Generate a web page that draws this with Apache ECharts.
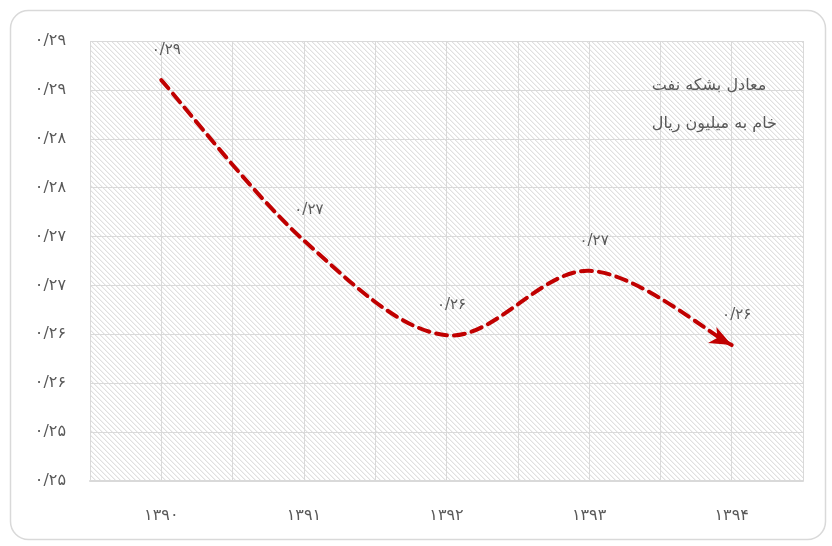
<!DOCTYPE html>
<html lang="fa">
<head>
    <meta charset="UTF-8">
    <title>Document</title>
    <style>
        html, body { margin: 0; padding: 0; background: #fff; }
        #main { width: 832px; height: 546px; }
    </style>
    <script src="https://cdn.jsdelivr.net/npm/echarts@6/dist/echarts.min.js"></script>
</head>
<body>
<div id="main"></div>
<script type="text/javascript">
    // داده‌ها
    var years = ['۱۳۹۰', '۱۳۹۱', '۱۳۹۲', '۱۳۹۳', '۱۳۹۴'];
    var values = [0.291, 0.2746, 0.2649, 0.2715, 0.2639];
    var yLabels = ['۰/۲۵', '۰/۲۵', '۰/۲۶', '۰/۲۶', '۰/۲۷', '۰/۲۷', '۰/۲۸', '۰/۲۸', '۰/۲۹', '۰/۲۹'];
    var seriesName = 'معادل بشکه نفت\nخام به میلیون ریال';

    var faDigits = '۰۱۲۳۴۵۶۷۸۹';
    function toFa(v) {
        return v.toFixed(2).replace(/\d/g, function (d) { return faDigits[+d]; }).replace('.', '/');
    }

    // هاشور پس‌زمینه
    var n = 5;
    var pat = document.createElement('canvas');
    pat.width = n;
    pat.height = n;
    var ctx = pat.getContext('2d');
    ctx.fillStyle = '#fff';
    ctx.fillRect(0, 0, n, n);
    for (var i = 0; i < n; i++) {
        ctx.fillStyle = '#e0e0e0';
        ctx.fillRect(i, i, 1, 1);
        ctx.fillStyle = '#f2f2f2';
        ctx.fillRect((i + 1) % n, i, 1, 1);
    }

    var gridColor = '#d9d9d9';
    var textColor = '#595959';
    var lineColor = '#c00000';
    var font = 'DejaVu Sans';

    // منحنی هموار مثل اکسل (کتمول-رام) + سر پیکان
    function renderCurve(params, api) {
        if (params.dataIndex !== 0) return null;
        var p = values.map(function (v, i) { return api.coord([i, v]); });
        var d = 'M' + p[0][0] + ' ' + p[0][1];
        var lastC2 = p[0];
        for (var i = 0; i < p.length - 1; i++) {
            var p0 = p[Math.max(i - 1, 0)], p1 = p[i], p2 = p[i + 1], p3 = p[Math.min(i + 2, p.length - 1)];
            var c1 = [p1[0] + (p2[0] - p0[0]) / 6, p1[1] + (p2[1] - p0[1]) / 6];
            var c2 = [p2[0] - (p3[0] - p1[0]) / 6, p2[1] - (p3[1] - p1[1]) / 6];
            d += ' C' + c1[0] + ' ' + c1[1] + ' ' + c2[0] + ' ' + c2[1] + ' ' + p2[0] + ' ' + p2[1];
            lastC2 = c2;
        }
        var tip = p[p.length - 1];
        var dx = tip[0] - lastC2[0], dy = tip[1] - lastC2[1];
        var len = Math.sqrt(dx * dx + dy * dy);
        var ux = dx / len, uy = dy / len;
        var L = 22, W = 9, notch = 6;
        var base = [tip[0] - ux * L, tip[1] - uy * L];
        var arrow = [
            tip,
            [base[0] - uy * W, base[1] + ux * W],
            [tip[0] - ux * (L - notch), tip[1] - uy * (L - notch)],
            [base[0] + uy * W, base[1] - ux * W]
        ];
        return {
            type: 'group',
            children: [{
                type: 'path',
                shape: { pathData: d },
                style: { fill: null, stroke: lineColor, lineWidth: 4, lineDash: [11, 7], lineCap: 'round' }
            }, {
                type: 'polygon',
                shape: { points: arrow },
                style: { fill: lineColor }
            }]
        };
    }

    var myChart = echarts.init(document.getElementById('main'));
    var option = {
        backgroundColor: '#fff',
        animation: false,
        title: {
            text: seriesName,
            right: 50,
            top: 62,
            textStyle: {
                fontFamily: font,
                fontSize: 16,
                fontWeight: 'normal',
                color: textColor,
                lineHeight: 38,
                align: 'right'
            }
        },
        graphic: [{
            type: 'rect',
            shape: { x: 10.5, y: 10.5, width: 815, height: 529, r: 18 },
            style: { fill: 'none', stroke: gridColor, lineWidth: 1.5 },
            z: -1
        }],
        grid: {
            left: 90,
            right: 29,
            top: 41,
            bottom: 65,
            show: true,
            borderWidth: 0,
            backgroundColor: { image: pat, repeat: 'repeat' }
        },
        xAxis: [{
            type: 'category',
            data: years,
            boundaryGap: true,
            axisLine: { lineStyle: { color: gridColor, width: 2 } },
            axisTick: { show: false },
            splitLine: { show: false },
            axisLabel: { color: textColor, fontFamily: font, fontSize: 16, margin: 27 }
        }, {
            type: 'value',
            min: 0,
            max: 10,
            interval: 1,
            position: 'bottom',
            axisLine: { show: false },
            axisTick: { show: false },
            axisLabel: { show: false },
            splitLine: { show: true, lineStyle: { color: gridColor, width: 1 } }
        }],
        yAxis: {
            type: 'value',
            min: 0.25,
            max: 0.295,
            interval: 0.005,
            axisLine: { show: false },
            axisTick: { show: false },
            splitLine: { lineStyle: { color: gridColor, width: 1 } },
            axisLabel: {
                color: textColor,
                fontFamily: font,
                fontSize: 16,
                margin: 24,
                formatter: function (v) {
                    return yLabels[Math.round((v - 0.25) / 0.005)];
                }
            }
        },
        series: [{
            type: 'custom',
            xAxisIndex: 0,
            renderItem: renderCurve,
            data: values.map(function (v, i) { return [i, v]; }),
            encode: { x: 0, y: 1 },
            silent: true
        }, {
            name: seriesName,
            type: 'line',
            xAxisIndex: 0,
            data: values,
            symbol: 'circle',
            symbolSize: 1,
            showSymbol: true,
            lineStyle: { width: 0, opacity: 0 },
            itemStyle: { color: 'rgba(0,0,0,0)' },
            label: {
                show: true,
                position: 'top',
                distance: 22,
                offset: [5, 0],
                color: textColor,
                fontFamily: font,
                fontSize: 15,
                formatter: function (p) { return toFa(p.value); }
            }
        }]
    };
    myChart.setOption(option);
</script>
</body>
</html>
